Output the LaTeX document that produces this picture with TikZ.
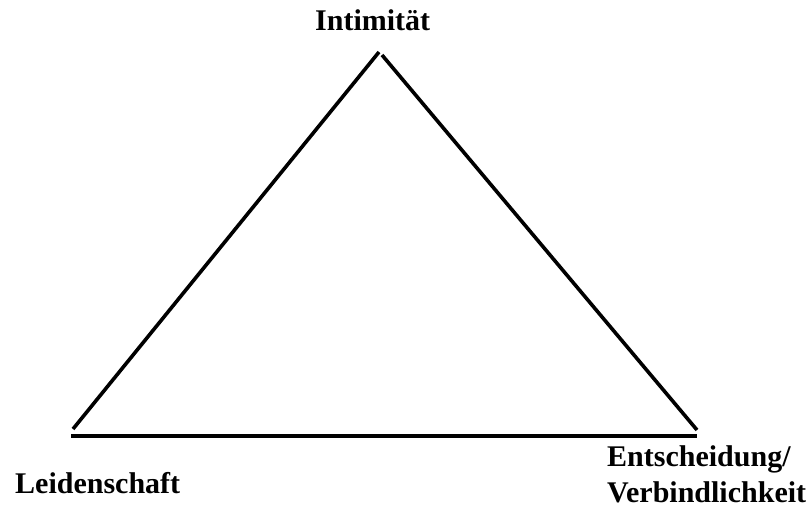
\documentclass[tikz,border=0pt]{standalone}
\usepackage{fontspec}
\setmainfont{Liberation Serif}
\begin{document}
\begin{tikzpicture}[x=1pt,y=-1pt,
  lbl/.style={font=\fontsize{30}{36}\selectfont\bfseries, inner sep=0pt, anchor=base west},
  side/.style={line width=3.6pt, line cap=butt}]
\useasboundingbox (0,0) rectangle (811,507);
\coordinate (lb) at (73,429);
\coordinate (lt) at (379,52);
\coordinate (rt) at (382,55);
\coordinate (rb) at (697,430);
\coordinate (bl) at (71,436);
\coordinate (br) at (697,436);
\draw[side] (lb) -- (lt);
\draw[side] (rt) -- (rb);
\draw[side] (bl) -- (br);
\node[lbl] (int) at (315,30) {Intimität};
\node[lbl] (lei) at (15,493) {Leidenschaft};
\node[lbl] (ent) at (607,466) {Entscheidung/};
\node[lbl] (ver) at (607,502) {Verbindlichkeit};
\end{tikzpicture}
\end{document}
